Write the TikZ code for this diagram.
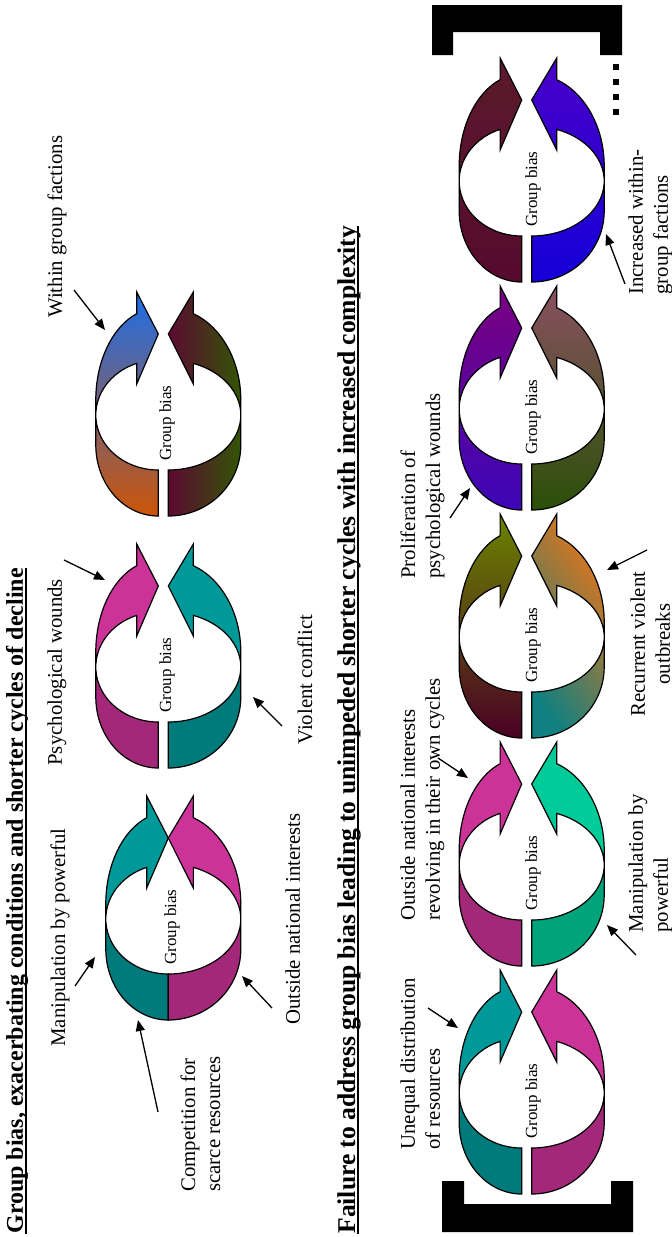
\documentclass[tikz,border=0pt]{standalone}
\usepackage{fontspec}
\setmainfont{Liberation Serif}
\usetikzlibrary{arrows.meta}

% underline with a heavier rule for the titles
\newcommand{\ttlline}[1]{\setbox0\hbox{#1}%
  \rlap{\vrule height -1.1pt depth 2.1pt width \wd0}\box0}

\definecolor{tealA}{HTML}{009999}
\definecolor{pinkA}{HTML}{CC3399}
\definecolor{seaA}{HTML}{00CC99}
\definecolor{blueC}{HTML}{1E6EE8}
\definecolor{greyC}{HTML}{7A6890}
\definecolor{orangeC}{HTML}{CC5508}
\definecolor{maroonC}{HTML}{5C0A32}
\definecolor{greenC}{HTML}{2E5E00}
\definecolor{oliveD}{HTML}{6A8400}
\definecolor{brownD}{HTML}{5A3A18}
\definecolor{maroonD}{HTML}{4A0024}
\definecolor{orangeD}{HTML}{F07414}
\definecolor{tanD}{HTML}{C87030}
\definecolor{tealD}{HTML}{108080}
\definecolor{purpleE}{HTML}{7A0080}
\definecolor{blueE}{HTML}{2A0CE0}
\definecolor{violetE}{HTML}{3C06B8}
\definecolor{mauveF}{HTML}{8A5060}
\definecolor{greenF}{HTML}{4E5A28}
\definecolor{darkgreenF}{HTML}{2A5008}
\definecolor{brownG}{HTML}{5A1A2C}
\definecolor{oliveG}{HTML}{3E4C14}
\definecolor{maroonG}{HTML}{560A2E}
\definecolor{blueH}{HTML}{4A00C8}
\definecolor{crimsonH}{HTML}{B0005A}
\definecolor{navyH}{HTML}{1400D8}

% one half of a group-bias ring (left half, pixel units, y down)
\newcommand{\ringpath}{(0,101)
  arc[start angle=90, end angle=180, x radius=62.5, y radius=71] -- (-62.5,-15)
  arc[start angle=180, end angle=249.8, x radius=62.5, y radius=92]
  -- (-21.6,-123) -- (0,-81) -- (-21.6,-31) -- (-21.6,-51.6)
  arc[start angle=249.8, end angle=90, x radius=62.5, y radius=55] -- cycle}

\tikzset{
  ringline/.style={draw=black, line width=0.6pt},
  pics/halfring/.style 2 args={code={
    \path[#1] \ringpath;
    \begin{scope}
      \clip (-80,0) rectangle (10,120);
      \fill[black, fill opacity=#2] \ringpath;
    \end{scope}
    \draw[ringline] \ringpath;
  }},
}

\begin{document}
\begin{tikzpicture}[x=0.5pt, y=-0.5pt,
  lbl/.style={rotate=90, anchor=north west, inner sep=0pt, align=left,
              font=\fontsize{10.4}{12.5}\selectfont},
  ttl/.style={rotate=90, anchor=base west, inner sep=0pt, font=\bfseries},
  gb/.style={rotate=90, inner sep=0pt, font=\fontsize{8.5}{10}\selectfont},
  ptr/.style={-{Triangle[length=5.5pt,width=4.5pt]}, line width=0.65pt},
  brk/.style={fill=black},
]
\useasboundingbox (0,0) rectangle (672,1237);

% titles
\node[ttl, font=\fontsize{12}{14}\selectfont\bfseries] (title1) at (23,1234)
  {\ttlline{Group bias, exacerbating conditions and shorter cycles of decline}};
\node[ttl, font=\fontsize{12.8}{15}\selectfont\bfseries] (title2) at (355,1234)
  {\ttlline{Failure to address group bias leading to unimpeded shorter cycles with increased complexity}};

% row 1 -- cycle A
\pic at (168.3,919) {halfring={fill=tealA}{0.2}};
\pic[xscale=-1.16] at (168.3,919) {halfring={fill=pinkA}{0.2}};
\node[gb] (gbA) at (172,927) {Group bias};
% row 1 -- cycle B
\pic at (158.3,667) {halfring={fill=pinkA}{0.2}};
\pic[xscale=-1.16] at (168.3,667) {halfring={fill=tealA}{0.2}};
\node[gb] (gbB) at (167,675) {Group bias};
% row 1 -- cycle C
\pic at (158.3,415) {halfring={top color=blueC, middle color=greyC, bottom color=orangeC}{0}};
\pic[xscale=-1.16] at (168.3,415) {halfring={left color=maroonC, right color=greenC}{0}};
\node[gb] (gbC) at (167,423) {Group bias};

% row 1 labels
\node[lbl] (manip1) at (50,1047) {Manipulation by powerful};
\node[lbl] (outside1) at (285,1025) {Outside national interests};
\node[lbl] (compet) at (180,1192) {Competition for\\scarce resources};
\node[lbl] (psych) at (47,766) {Psychological wounds};
\node[lbl] (violent) at (297,745) {Violent conflict};
\node[lbl] (within) at (47,318) {Within group factions};

% row 1 pointers
\coordinate (manip1T) at (75,986);    \coordinate (manip1H) at (95,957);
\coordinate (outside1T) at (272,1008);\coordinate (outside1H) at (242,976);
\coordinate (competT) at (158,1112);  \coordinate (competH) at (138,1020);
\coordinate (psychT) at (64,560);     \coordinate (psychH) at (105,580);
\coordinate (violentT) at (282,726);  \coordinate (violentH) at (253,697);
\coordinate (withinT) at (74,290);    \coordinate (withinH) at (105,330);
\draw[ptr] (manip1T) -- (manip1H);
\draw[ptr] (outside1T) -- (outside1H);
\draw[ptr] (competT) -- (competH);
\draw[ptr] (psychT) -- (psychH);
\draw[ptr] (violentT) -- (violentH);
\draw[ptr] (withinT) -- (withinH);

% row 2 -- five cycles
\pic at (521.7,1093) {halfring={fill=tealA}{0.2}};
\pic[xscale=-1.16] at (531.7,1093) {halfring={fill=pinkA}{0.2}};
\pic at (521.7,865) {halfring={fill=pinkA}{0.2}};
\pic[xscale=-1.16] at (531.7,865) {halfring={fill=seaA}{0.2}};
\pic at (521.7,637) {halfring={top color=oliveD, middle color=brownD, bottom color=maroonD}{0}};
\pic[xscale=-1.16] at (531.7,637) {halfring={top color=orangeD, middle color=tanD, bottom color=tealD, shading angle=-55}{0}};
\pic at (521.7,409) {halfring={top color=purpleE, middle color=blueE, bottom color=violetE}{0}};
\pic[xscale=-1.16] at (531.7,409) {halfring={top color=mauveF, middle color=greenF, bottom color=darkgreenF}{0}};
\pic at (521.7,181) {halfring={top color=brownG, middle color=oliveG, bottom color=maroonG}{0}};
\pic[xscale=-1.16] at (531.7,181) {halfring={top color=blueH, middle color=crimsonH, bottom color=navyH}{0}};
\foreach \cy [count=\i] in {1093,865,637,409,181}
  \node[gb] (gb2\i) at (533,\cy+8) {Group bias};

% row 2 labels
\node[lbl] (unequal) at (400,1150) {Unequal distribution\\of resources};
\node[lbl] (outside2) at (400,921) {Outside national interests\\revolving in their own cycles};
\node[lbl] (manip2) at (628,933) {Manipulation by\\powerful};
\node[lbl, align=center] (recur) at (630,717) {Recurrent violent\\outbreaks};
\node[lbl] (prolif) at (400,579) {Proliferation of\\psychological wounds};
\node[lbl] (incr) at (628,295) {Increased within-\\group factions};

% row 2 pointers
\coordinate (unequalT) at (428,1008); \coordinate (unequalH) at (458,1028);
\coordinate (outside2T) at (438,758); \coordinate (outside2H) at (468,778);
\coordinate (manip2T) at (636,955);   \coordinate (manip2H) at (607,925);
\coordinate (recurT) at (647,550);    \coordinate (recurH) at (607,570);
\coordinate (prolifT) at (450,518);   \coordinate (prolifH) at (470,488);
\coordinate (incrT) at (625,284);     \coordinate (incrH) at (606,234);
\draw[ptr] (unequalT) -- (unequalH);
\draw[ptr] (outside2T) -- (outside2H);
\draw[ptr] (manip2T) -- (manip2H);
\draw[ptr] (recurT) -- (recurH);
\draw[ptr] (prolifT) -- (prolifH);
\draw[ptr] (incrT) -- (incrH);

% brackets and continuation dots
\fill[brk] (432,5) -- (622,5) -- (622,55) -- (600,55) -- (600,32)
  -- (453,32) -- (453,55) -- (432,55) -- cycle;
\fill[brk] (442,1232) -- (633,1232) -- (633,1181) -- (611,1181) -- (611,1204)
  -- (464,1204) -- (464,1181) -- (442,1181) -- cycle;
\foreach \dy in {67,82,97,112}
  \fill[brk] (612.5,\dy-3.3) rectangle (618.5,\dy+3.3);
\end{tikzpicture}
\end{document}
